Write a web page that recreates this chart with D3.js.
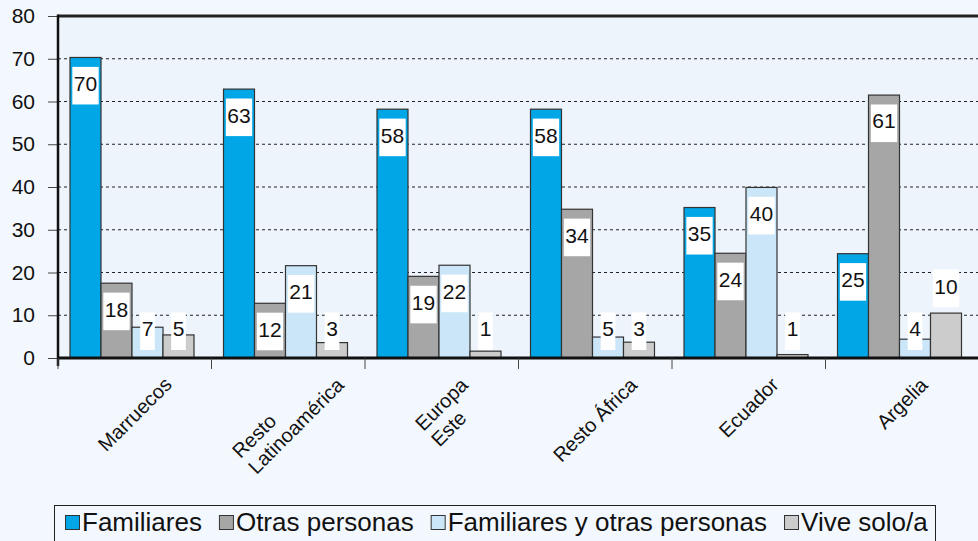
<!DOCTYPE html>
<html>
<head>
<meta charset="utf-8">
<script src="https://cdn.jsdelivr.net/npm/d3@7"></script>
<style>
body { margin: 0; background: #f3f8fe; }
svg { display: block; font-family: "Liberation Sans", Arial, sans-serif; }
</style>
</head>
<body>
<script>
// data
var categories = ["Marruecos", "Resto\nLatinoamérica", "Europa\nEste", "Resto África", "Ecuador", "Argelia"];
var series = ["Familiares", "Otras personas", "Familiares y otras personas", "Vive solo/a"];
var familiares = [70.3, 62.9, 58.2, 58.2, 35.2, 24.4];
var otras = [17.5, 12.8, 19.1, 34.8, 24.5, 61.5];
var famOtras = [7.2, 21.6, 21.7, 4.9, 39.9, 4.4];
var viveSolo = [5.4, 3.6, 1.6, 3.7, 0.8, 10.5];
// printed value labels
var labFamiliares = [70, 63, 58, 58, 35, 25];
var labOtras = [18, 12, 19, 34, 24, 61];
var labFamOtras = [7, 21, 22, 5, 40, 4];
var labViveSolo = [5, 3, 1, 3, 1, 10];
var yTicks = [0, 10, 20, 30, 40, 50, 60, 70, 80];
var colors = ["#00a6e6", "#a6a6a6", "#cae6f8", "#cccccc"];

var values = [familiares, otras, famOtras, viveSolo];
var labels = [labFamiliares, labOtras, labFamOtras, labViveSolo];

var W = 978, H = 541;
var svg = d3.select("body").append("svg")
    .attr("width", W)
    .attr("height", H);

svg.append("rect").attr("width", W).attr("height", H).attr("fill", "#f3f8fe");

var x0 = d3.scaleBand().domain(categories).range([58, 979]);
var x1 = d3.scaleBand().domain(series).range([12, 136]);
var y = d3.scaleLinear().domain([0, 80]).range([358, 16]);

// plot background
svg.append("rect")
    .attr("x", 58).attr("y", y(80))
    .attr("width", W - 58).attr("height", y(0) - y(80))
    .attr("fill", "#edf4fc");

// dotted grid
svg.append("g")
  .selectAll("line")
    .data(yTicks.filter(function(d) { return d > 0 && d < 80; }))
  .enter().append("line")
    .attr("x1", 58).attr("x2", W)
    .attr("y1", y).attr("y2", y)
    .attr("stroke", "#222")
    .attr("stroke-width", 1)
    .attr("stroke-dasharray", "3,3");

// y axis
var yAxis = svg.append("g")
    .attr("transform", "translate(58,0)")
    .call(d3.axisLeft(y).tickValues(yTicks).tickSize(10).tickPadding(13));
yAxis.select(".domain").remove();
yAxis.selectAll("line").attr("stroke", "#444");
yAxis.selectAll("text")
    .attr("fill", "#111")
    .style("font-size", "21px")
    .style("font-family", "Liberation Sans, Arial, sans-serif");

// bars
var rows = categories.map(function(c, i) {
  return series.map(function(s, j) {
    return {cat: c, key: s, value: values[j][i], label: labels[j][i], color: colors[j]};
  });
});

var groups = svg.append("g")
  .selectAll("g")
    .data(rows)
  .enter().append("g")
    .attr("transform", function(d) { return "translate(" + x0(d[0].cat) + ",0)"; });

groups.selectAll("rect")
    .data(function(d) { return d; })
  .enter().append("rect")
    .attr("x", function(d) { return x1(d.key); })
    .attr("y", function(d) { return y(d.value); })
    .attr("width", x1.bandwidth())
    .attr("height", function(d) { return y(0) - y(d.value); })
    .attr("fill", function(d) { return d.color; })
    .attr("stroke", "#333")
    .attr("stroke-width", 1.2);

// value labels in white boxes
var boxH = 37.6;
groups.selectAll("g.lab")
    .data(function(d) { return d; })
  .enter().append("g")
    .attr("class", "lab")
    .each(function(d) {
      var g = d3.select(this);
      var cx = x1(d.key) + x1.bandwidth() / 2;
      var top = y(d.value);
      var barH = y(0) - top;
      var boxTop = top + 9.4;
      if (boxTop + boxH > 352) {
        // too short to hold the box: tall-ish bars put it on top, tiny ones keep it low
        boxTop = barH > boxH ? top - 6 - boxH : 350 - boxH;
      }
      var t = g.append("text")
          .attr("x", cx)
          .attr("y", boxTop + 24)
          .attr("text-anchor", "middle")
          .style("font-size", "21px")
          .attr("fill", "#111")
          .text(d.label);
      var w = t.node().getComputedTextLength() + 3;
      g.insert("rect", "text")
          .attr("x", cx - w / 2)
          .attr("y", boxTop)
          .attr("width", w)
          .attr("height", boxH)
          .attr("fill", "#fff");
    });

// axis frame
svg.append("line")
    .attr("x1", 58).attr("x2", W)
    .attr("y1", y(80)).attr("y2", y(80))
    .attr("stroke", "#222").attr("stroke-width", 3);
svg.append("line")
    .attr("x1", 58).attr("x2", 58)
    .attr("y1", y(80) - 1.5).attr("y2", y(0) + 8)
    .attr("stroke", "#111").attr("stroke-width", 2.5);
svg.append("line")
    .attr("x1", 58).attr("x2", W)
    .attr("y1", y(0)).attr("y2", y(0))
    .attr("stroke", "#111").attr("stroke-width", 3);

// category ticks
svg.append("g")
  .selectAll("line")
    .data(categories)
  .enter().append("line")
    .attr("x1", function(d) { return x0(d); })
    .attr("x2", function(d) { return x0(d); })
    .attr("y1", y(0)).attr("y2", y(0) + 11)
    .attr("stroke", "#444");

// rotated category labels (lines start-aligned, block centred under the group)
svg.append("g")
  .selectAll("g")
    .data(categories)
  .enter().append("g")
    .each(function(c) {
      var g = d3.select(this);
      var t = g.append("text")
          .attr("transform", "rotate(-45)")
          .attr("text-anchor", "start")
          .attr("fill", "#111")
          .style("font-size", "20px");
      c.split("\n").forEach(function(line, i) {
        t.append("tspan").attr("x", 0).attr("dy", i ? "1.12em" : 0).text(line);
      });
      // union of the rotated line boxes
      var left = Infinity, right = -Infinity, top = Infinity;
      t.selectAll("tspan").each(function() {
        var r = this.getBoundingClientRect();
        left = Math.min(left, r.left);
        right = Math.max(right, r.right);
        top = Math.min(top, r.top);
      });
      var cx = x0(c) + x0.bandwidth() / 2;
      g.attr("transform", "translate(" + (cx - (left + right) / 2) + "," + (373 - top) + ")");
    });

// legend
var legend = svg.append("g");
legend.append("rect")
    .attr("x", 54.5).attr("y", 505.5)
    .attr("width", 881).attr("height", 45)
    .attr("fill", "#f3f8fe")
    .attr("stroke", "#222");
var lx = 65;
series.forEach(function(s, i) {
  legend.append("rect")
      .attr("x", lx + 0.5).attr("y", 515.5)
      .attr("width", 14).attr("height", 14)
      .attr("fill", colors[i])
      .attr("stroke", "#333");
  var t = legend.append("text")
      .attr("x", lx + 17).attr("y", 531)
      .attr("fill", "#111")
      .style("font-size", "26px")
      .text(s);
  lx = lx + 17 + t.node().getComputedTextLength() + 17;
});
</script>
</body>
</html>
